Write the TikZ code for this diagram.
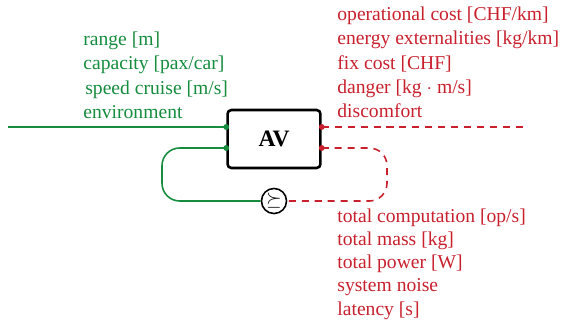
\documentclass[tikz,border=0pt]{standalone}
\usepackage{fontspec}
\setmainfont{Liberation Serif}
\usepackage{amsmath,amssymb}
\usepackage{tikz}
\usetikzlibrary{calc}
\definecolor{fungreen}{RGB}{22,140,62}
\definecolor{resred}{RGB}{200,32,45}
\tikzset{
    fline/.style={fungreen,line width=0.8pt},
    rline/.style={resred,line width=0.8pt,dash pattern=on 3.6pt off 3pt},
    flabel/.style={fungreen,anchor=base west,inner sep=0pt},
    rlabel/.style={resred,anchor=base west,inner sep=0pt},
    port/.style={circle,fill,inner sep=0pt,minimum size=3pt}
}
\begin{document}
\begin{tikzpicture}[x=0.51pt,y=-0.51pt,font=\fontsize{10}{12}\selectfont]
                \useasboundingbox (0,0) rectangle (562,325);
                \node[draw,line width=1.3pt,rounded corners=2pt,minimum width=47.4pt,minimum height=29.6pt,font=\fontsize{12}{14}\selectfont\bfseries] (av) at (274,139) {AV};
                \coordinate (fa) at ($(av.west)+(0,-12)$);
                \coordinate (fb) at ($(av.west)+(0,9)$);
                \coordinate (ra) at ($(av.east)+(0,-12)$);
                \coordinate (rb) at ($(av.east)+(0,9)$);
                \node[draw,circle,line width=0.8pt,minimum size=12.8pt,inner sep=0pt] (cmp) at (274,201) {$\succeq$};
                \coordinate (env) at (8,127);
                \coordinate (out) at (528,127);

                % functionality side
                \draw[fline] (env) -- (fa);
                \draw[fline,rounded corners=9pt] (fb) -- (162,148) -- (162,201) -- (cmp.west);
                \node[port,fungreen] (pfa) at (fa) {};
                \node[port,fungreen] (pfb) at (fb) {};

                % resources side
                \draw[rline] (ra) -- (out);
                \draw[rline,rounded corners=9pt] (rb) -- (387,148) -- (387,201) -- (cmp.east);
                \node[port,resred] (pra) at (ra) {};
                \node[port,resred] (prb) at (rb) {};

                \foreach \t [count=\i] in {{range [m]},{capacity [pax/car]},{\hspace{1pt}speed cruise [m/s]},{environment}}
                    \node[flabel] (f\i) at (83,{45+24.5*(\i-1)}) {\t};
                \foreach \t [count=\i] in {{operational cost [CHF/km]},{energy externalities [kg/km]},{fix cost [CHF]},{danger [kg $\cdot$ m/s]},{discomfort}}
                    \node[rlabel] (r\i) at (337,{20.5+24.3*(\i-1)}) {\t};
                \foreach \t [count=\i] in {{total computation [op/s]},{total mass [kg]},{total power [W]},{system noise},{latency [s]}}
                    \node[rlabel] (s\i) at (337,{222+23.3*(\i-1)}) {\t};
            \end{tikzpicture}
\end{document}
